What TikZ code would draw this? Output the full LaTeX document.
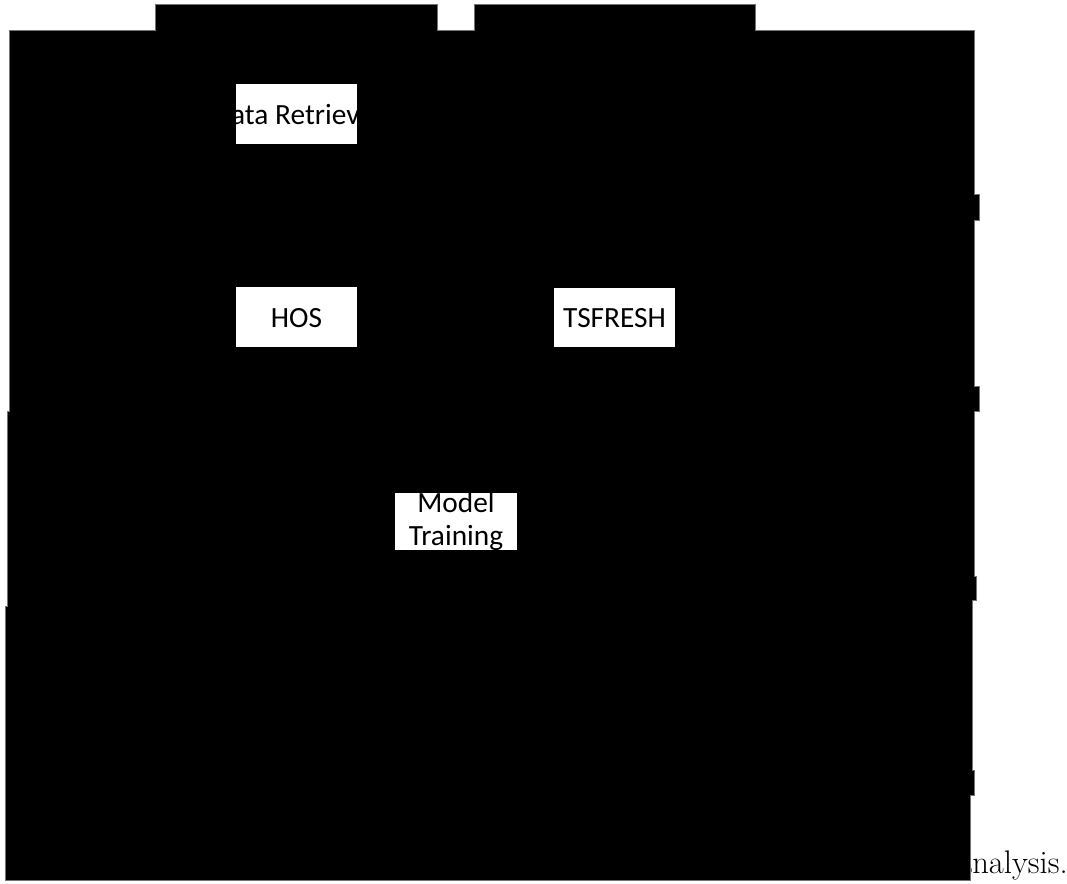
\documentclass[tikz,border=0pt]{standalone}
\usepackage{fontspec}
\usepackage{tikz}
\usetikzlibrary{positioning}
\newfontfamily\boxfont{Carlito}
\tikzset{
  boxlabel/.style={font=\boxfont\fontsize{22}{25}\selectfont,inner sep=0pt,anchor=base},
  whitebox/.style={fill=white,draw=none},
  blackpart/.style={fill=black,draw=black!55,line width=0.4pt}
}
\begin{document}
\begin{tikzpicture}[x=0.75pt,y=-0.75pt]
\useasboundingbox (0,0) rectangle (1067,883);
% caption line, mostly hidden behind the figure
\node[font=\fontsize{24.5}{28}\selectfont,inner sep=0pt,anchor=base east] (caption) at (1068,873) {data analysis.};
% figure area, filled black
\path[blackpart] (9,30) -- (155,30) -- (155,4) -- (437,4) -- (437,30) -- (474,30) -- (474,4) -- (755,4) -- (755,30)
  -- (974,30) -- (974,194) -- (979,194) -- (979,220) -- (974,220) -- (974,386) -- (979,386) -- (979,411) -- (974,411)
  -- (974,576) -- (976,576) -- (976,600) -- (972,600) -- (972,770) -- (974,770) -- (974,795) -- (970,795) -- (970,880)
  -- (5,880) -- (5,606) -- (7,606) -- (7,411) -- (9,411) -- cycle;
% white label boxes
\path[whitebox] (236,84) rectangle (357,144);
\begin{scope}
\clip (236,84) rectangle (357,144);
\node[boxlabel] (retrieval) at (296.5,124) {Data Retrieval};
\end{scope}
\path[whitebox] (236,287) rectangle (357,347);
\node[boxlabel] (hos) at (296.5,327) {HOS};
\path[whitebox] (554,288) rectangle (675,347);
\node[boxlabel] (tsfresh) at (614.5,327) {TSFRESH};
\path[whitebox] (395,493) rectangle (517,550);
\begin{scope}
\clip (395,493) rectangle (517,550);
\node[boxlabel] (model) at (456,512) {Model};
\node[boxlabel] (training) at (456,545) {Training};
\end{scope}
\end{tikzpicture}
\end{document}
